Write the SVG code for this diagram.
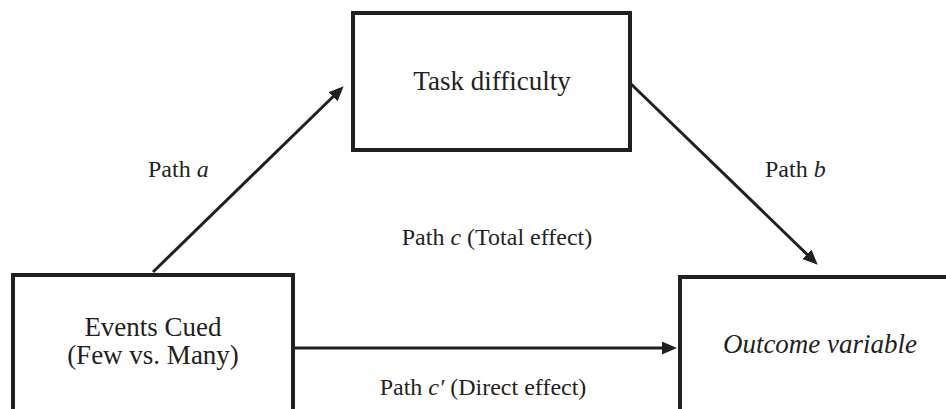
<svg xmlns="http://www.w3.org/2000/svg" width="946" height="409" viewBox="0 0 946 409">
<style>
.box{fill:#fff;stroke:#231f20;stroke-width:4}
.node{font-family:"Liberation Serif","Times New Roman",serif;font-size:27px;fill:#231f20;text-anchor:middle}
.lbl{font-family:"Liberation Serif","Times New Roman",serif;font-size:24px;fill:#231f20}
.conn{stroke:#231f20;stroke-width:3;fill:none;marker-end:url(#ah)}
</style>
<defs>
<marker id="ah" markerUnits="userSpaceOnUse" markerWidth="16" markerHeight="14" refX="4" refY="6.5" orient="auto">
<path d="M0,0 L15,6.5 L0,13 z" fill="#231f20"/>
</marker>
</defs>
<rect width="946" height="409" fill="#fff"/>
<g id="connectors">
<path class="conn" d="M153,272 L335.8,94"/>
<path class="conn" d="M630,83 L809.8,257"/>
<path class="conn" d="M293,348 L666,348"/>
</g>
<g id="task">
<rect class="box" x="353" y="13" width="277" height="137"/>
<text class="node" x="492" y="90">Task difficulty</text>
</g>
<g id="events">
<rect class="box" x="13" y="275" width="280" height="170"/>
<text class="node" x="153" y="336">Events Cued</text>
<text class="node" x="153" y="364">(Few vs. Many)</text>
</g>
<g id="outcome">
<rect class="box" x="680" y="277" width="300" height="170"/>
<text class="node" x="820" y="353" font-style="italic">Outcome variable</text>
</g>
<g id="labels">
<text class="lbl" x="148" y="177">Path <tspan font-style="italic">a</tspan></text>
<text class="lbl" x="765" y="177">Path <tspan font-style="italic">b</tspan></text>
<text class="lbl" x="497" y="245" text-anchor="middle">Path <tspan font-style="italic">c</tspan> (Total effect)</text>
<text class="lbl" x="483" y="395" text-anchor="middle">Path <tspan font-style="italic">c′</tspan> (Direct effect)</text>
</g>
</svg>
